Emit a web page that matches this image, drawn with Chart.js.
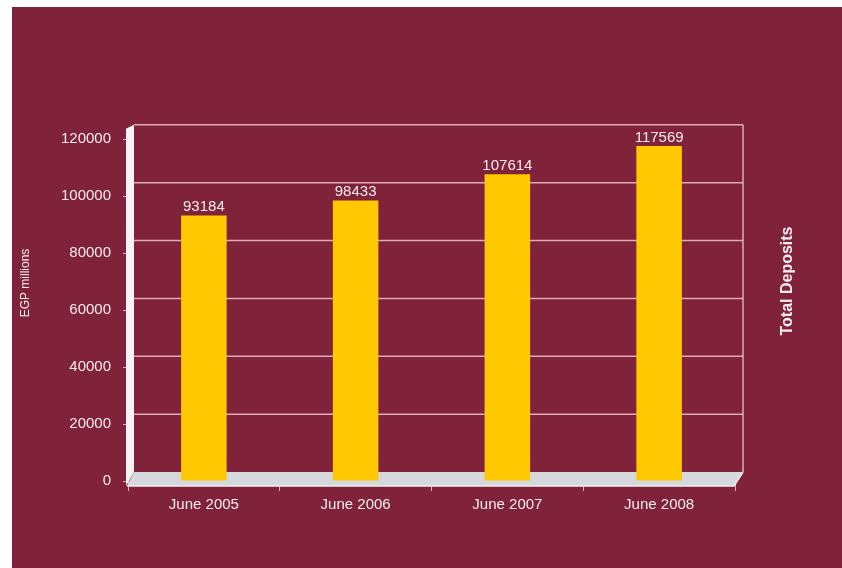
<!DOCTYPE html>
<html>
<head>
<meta charset="utf-8">
<script src="https://cdn.jsdelivr.net/npm/chart.js@4.4.1/dist/chart.umd.min.js"></script>
<style>
  html, body { margin: 0; padding: 0; background: #ffffff; width: 842px; height: 568px; overflow: hidden; }
  #wrap { position: absolute; left: 12px; top: 7px; width: 830px; height: 561px; background: #80223a; }
  canvas { display: block; }
</style>
</head>
<body>
<div id="wrap"><canvas id="c" width="830" height="561"></canvas></div>
<script>
// ---- data ----
const categories = ["June 2005", "June 2006", "June 2007", "June 2008"];
const totalDeposits = [93184, 98433, 107614, 117569];
const yTicks = [0, 20000, 40000, 60000, 80000, 100000, 120000];
const yAxisTitle = "EGP millions";
const sideTitle = "Total Deposits";

const TXT = "#f6ecef";
const GRID = "rgba(236, 196, 208, 0.85)";
const FONT = "'Liberation Sans', Arial, Helvetica, sans-serif";

const decor = {
  id: "decor",
  beforeDatasetsDraw(chart) {
    const { ctx, chartArea: a, scales } = chart;
    const y = scales.y;
    const L = a.left, R = a.right, B = a.bottom;
    const back = (py) => py - 9 - (B - py) * 0.015;
    ctx.save();
    // back wall grid lines
    ctx.strokeStyle = GRID;
    ctx.lineWidth = 1.5;
    yTicks.forEach(v => {
      if (v === 0) return;
      const py = back(y.getPixelForValue(v));
      ctx.beginPath();
      ctx.moveTo(L + 6, py);
      ctx.lineTo(R + 8, py);
      ctx.stroke();
    });
    // right edge of back wall
    const topBack = back(y.getPixelForValue(yTicks[yTicks.length - 1]));
    ctx.beginPath();
    ctx.moveTo(R + 8, topBack);
    ctx.lineTo(R + 8, B - 9);
    ctx.stroke();
    // floor
    ctx.fillStyle = "#d5d8dc";
    ctx.beginPath();
    ctx.moveTo(L + 6, B - 9);
    ctx.lineTo(R + 8, B - 9);
    ctx.lineTo(R - 1, B + 5);
    ctx.lineTo(L - 1, B + 5);
    ctx.closePath();
    ctx.fill();
    ctx.strokeStyle = "#f2eef0";
    ctx.lineWidth = 1.5;
    ctx.beginPath();
    ctx.moveTo(L - 1, B + 5);
    ctx.lineTo(R - 1, B + 5);
    ctx.lineTo(R + 8, B - 9);
    ctx.stroke();
    // left wall
    ctx.fillStyle = "#f7f3f5";
    ctx.beginPath();
    ctx.moveTo(L - 2, topBack + 4);
    ctx.lineTo(L + 6, topBack);
    ctx.lineTo(L + 6, B - 9);
    ctx.lineTo(L - 2, B + 5);
    ctx.closePath();
    ctx.fill();
    ctx.restore();
  },
  afterDatasetsDraw(chart) {
    const { ctx } = chart;
    const meta = chart.getDatasetMeta(0);
    ctx.save();
    ctx.fillStyle = TXT;
    ctx.font = "15px " + FONT;
    ctx.textAlign = "center";
    ctx.textBaseline = "bottom";
    meta.data.forEach((bar, i) => {
      ctx.fillText(String(chart.data.datasets[0].data[i]), bar.x, bar.y - 1);
    });
    // axis titles (rotated)
    const midY = (chart.chartArea.top + chart.chartArea.bottom) / 2 - 27;
    ctx.textBaseline = "middle";
    ctx.font = "12px " + FONT;
    ctx.translate(14, midY);
    ctx.rotate(-Math.PI / 2);
    ctx.fillText(yAxisTitle, 0, 0);
    ctx.restore();
    ctx.save();
    ctx.fillStyle = TXT;
    ctx.textAlign = "center";
    ctx.textBaseline = "middle";
    ctx.font = "bold 16px " + FONT;
    ctx.translate(chart.chartArea.right + 53, midY - 2);
    ctx.rotate(-Math.PI / 2);
    ctx.fillText(sideTitle, 0, 0);
    ctx.restore();
  }
};

new Chart(document.getElementById("c"), {
  type: "bar",
  data: {
    labels: categories,
    datasets: [{
      label: sideTitle,
      data: totalDeposits,
      backgroundColor: "#ffc800",
      borderWidth: 0,
      barPercentage: 0.3,
      categoryPercentage: 1.0
    }]
  },
  options: {
    responsive: false,
    animation: false,
    devicePixelRatio: 1,
    layout: { padding: { left: 0, right: 107, top: 132, bottom: 37 } },
    plugins: { legend: { display: false }, tooltip: { enabled: false } },
    scales: {
      x: {
        afterFit(s) { s.height = 50; },
        grid: { display: true, drawOnChartArea: false, drawTicks: true, tickLength: 10, color: GRID, offset: true },
        border: { display: false },
        ticks: { color: TXT, font: { family: FONT, size: 15 }, padding: 5, maxRotation: 0 }
      },
      y: {
        min: 0, max: 120000,
        afterFit(s) { s.width = 116; },
        afterBuildTicks(s) { s.ticks = yTicks.map(v => ({ value: v })); },
        grid: { display: true, drawOnChartArea: false, drawTicks: true, tickLength: 5, color: GRID },
        border: { display: false },
        ticks: {
          color: TXT, font: { family: FONT, size: 15 }, padding: 12,
          callback: (v) => String(v)
        }
      }
    }
  },
  plugins: [decor]
});
</script>
</body>
</html>
